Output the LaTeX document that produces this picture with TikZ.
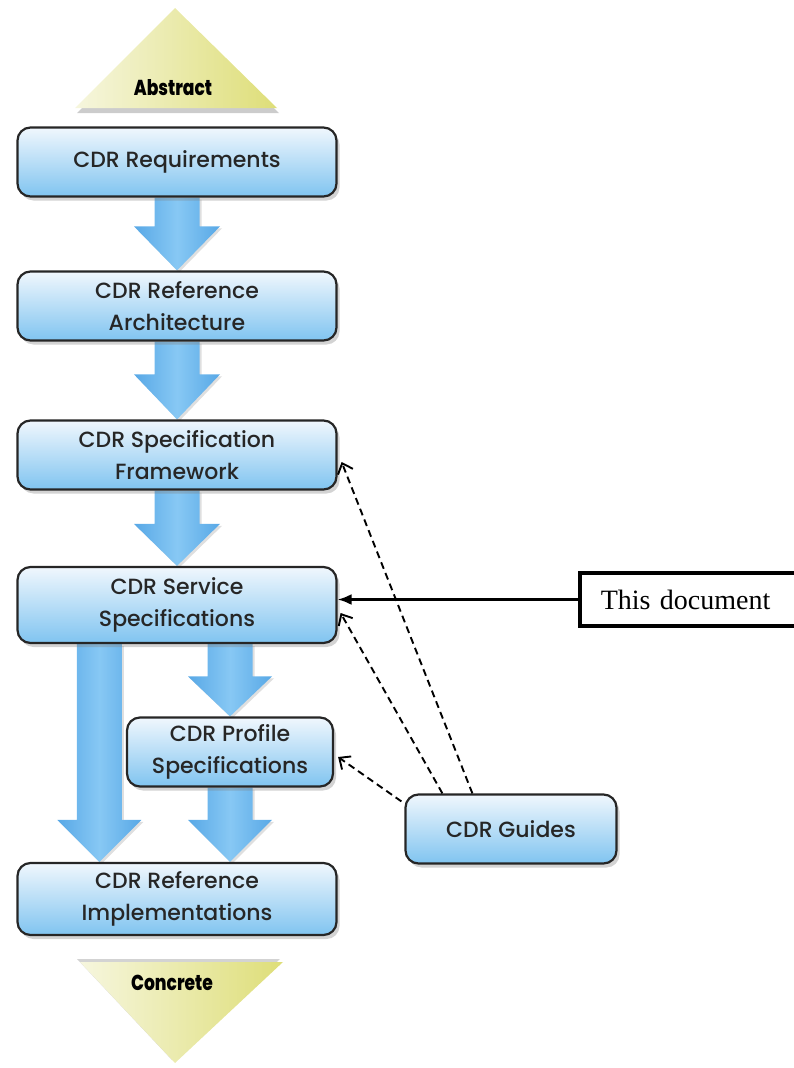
\documentclass[tikz,border=0pt]{standalone}
\usepackage{fontspec}
\usetikzlibrary{calc,shadows,arrows.meta,backgrounds}
\newfontfamily\boxfont{Poppins}[UprightFont={* Medium}, BoldFont={* ExtraBold}]
\newfontfamily\docfont{Liberation Serif}
\definecolor{boxtop}{RGB}{240,247,253}
\definecolor{boxbot}{RGB}{128,196,240}
\definecolor{arrblue}{RGB}{88,168,230}
\definecolor{arrlight}{RGB}{135,200,244}
\definecolor{triyel}{RGB}{222,222,120}
\definecolor{tripale}{RGB}{246,246,222}

\tikzset{
  cdrbox/.style={draw=black!85, line width=2.2pt, rounded corners=13pt,
    top color=boxtop, bottom color=boxbot,
    drop shadow={opacity=0.35, shadow xshift=3pt, shadow yshift=-4pt},
    minimum width=319pt, minimum height=69pt, align=center,
    font=\boxfont\fontsize{22}{32}\selectfont, text=black!85},
  fatarrow/.style={left color=arrblue, right color=arrblue, middle color=arrlight,
    drop shadow={opacity=0.25, shadow xshift=2pt, shadow yshift=-2pt}},
  guideline/.style={dash pattern=on 7pt off 4.5pt, line width=1.9pt,
    -{Straight Barb[length=9pt,width=16pt]}},
  levellabel/.style={font=\boxfont\bfseries\fontsize{18}{20}\selectfont}
}
% start, tip, shaft half width, head half width, head length
\newcommand{\fatarrow}[5]{%
  \path[fatarrow] ($(#1)+(-#3,0)$) -- ($(#2)+(-#3,-#5)$) -- ($(#2)+(-#4,-#5)$)
    -- (#2) -- ($(#2)+(#4,-#5)$) -- ($(#2)+(#3,-#5)$) -- ($(#1)+(#3,0)$) -- cycle;}

\begin{document}
\begin{tikzpicture}[x=1pt,y=-1pt]
\useasboundingbox (0,0) rectangle (794,1068);

% abstract / concrete
\path[left color=tripale, right color=triyel,
  drop shadow={opacity=0.4, shadow xshift=2pt, shadow yshift=-5pt}]
  (175,8) -- (277,108) -- (75,108) -- cycle;
\node[levellabel] (abstract) at (173,88) {\scalebox{0.95}[1.2]{Abstract}};
\path[left color=tripale, right color=triyel,
  drop shadow={opacity=0.35, shadow xshift=-3pt, shadow yshift=3pt}]
  (80,962) -- (283,962) -- (175,1063) -- cycle;
\node[levellabel] (concrete) at (172,983) {\scalebox{0.95}[1.2]{Concrete}};

\node[cdrbox] (req)   at (177,162) {CDR Requirements};
\node[cdrbox] (arch)  at (177,306) {CDR Reference\\Architecture};
\node[cdrbox] (spec)  at (177,455) {CDR Specification\\Framework};
\node[cdrbox, minimum height=76pt] (svc) at (177,605) {CDR Service\\Specifications};
\node[cdrbox, minimum width=206pt] (prof) at (230,752) {CDR Profile\\Specifications};
\node[cdrbox, minimum width=211pt] (guide) at (511,829) {CDR Guides};
\node[cdrbox, minimum height=72pt] (impl)  at (177,899) {CDR Reference\\Implementations};
\node[draw, line width=3.5pt, anchor=west, inner xsep=21pt, text width=200pt,
  align=left, minimum height=53pt, font=\docfont\fontsize{28}{32}\selectfont]
  (doc) at (578,599.5) {This document};

\coordinate (lt) at ($(impl.north west)+(83,0)$);
\begin{scope}[on background layer]
\fatarrow{req.south}{arch.north}{22.5}{43}{44}
\fatarrow{arch.south}{spec.north}{22.5}{43}{45}
\fatarrow{spec.south}{svc.north}{22.5}{43}{42}
\fatarrow{prof.north |- svc.south}{prof.north}{22.5}{42}{40}
\fatarrow{prof.south}{prof.south |- impl.north}{22.5}{42}{42}
\fatarrow{lt |- svc.south}{lt}{22.5}{42}{42}
\end{scope}

\draw[guideline] ($(guide.north west)+(68,0)$) -- ($(spec.east)+(4,7)$);
\draw[guideline] ($(guide.north west)+(38,0)$) -- ($(svc.east)+(3,8)$);
\draw[guideline] ($(guide.north west)+(-3,8)$) -- ($(prof.east)+(4,5)$);
\draw[line width=2.5pt, -{Latex[length=14pt,width=11pt]}] (doc.west) -- (doc.west -| svc.east);
\end{tikzpicture}
\end{document}
